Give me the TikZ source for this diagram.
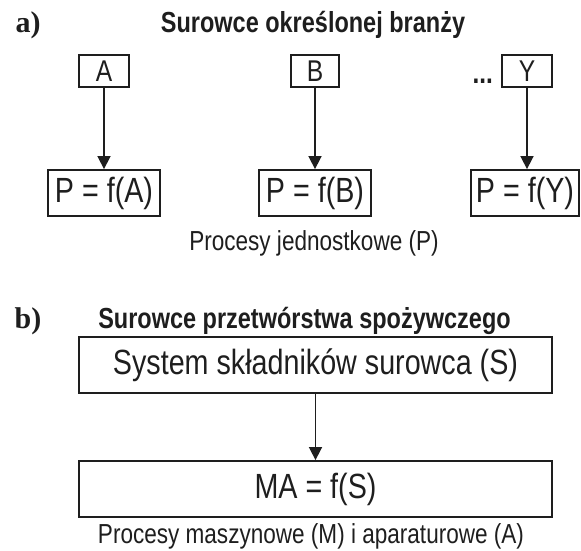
\documentclass[tikz,border=0pt]{standalone}
\usepackage{fontspec}
\setmainfont{Liberation Serif}
\newfontfamily\cond[FakeStretch=0.82]{Liberation Sans}
\newfontfamily\condb[FakeStretch=0.81]{Liberation Sans Bold}
\usetikzlibrary{arrows.meta}
\definecolor{ink}{HTML}{1E1E1E}
\begin{document}
\begin{tikzpicture}[x=1pt,y=-1pt,
  box/.style={draw=ink,line width=1.8pt,inner sep=0pt,text=ink,
    font=\cond\fontsize{35}{38}\selectfont},
  smallbox/.style={box,font=\cond\fontsize{30}{32}\selectfont},
  captext/.style={text=ink,inner sep=0pt,anchor=base,font=\cond\fontsize{27.5}{30}\selectfont},
  ttl/.style={text=ink,inner sep=0pt,anchor=base,font=\condb\fontsize{29}{31}\selectfont},
  lab/.style={text=ink,inner sep=0pt,anchor=base,font=\bfseries\fontsize{30}{32}\selectfont},
  arr/.style={draw=ink,line width=1.6pt,-{Triangle[length=13pt,width=13pt]}}]
\useasboundingbox (0,0) rectangle (581,551);
% a)
\node[lab] (la) at (28,33) {a)};
\node[ttl] (ta) at (313,33) {Surowce określonej branży};
\node[smallbox,minimum width=50pt,minimum height=32pt] (A) at (104,71) {A};
\node[smallbox,minimum width=48pt,minimum height=32pt] (B) at (315,71) {B};
\node[smallbox,minimum width=50pt,minimum height=32pt] (Y) at (527,71) {Y};
\node[text=ink,inner sep=0pt,font=\condb\fontsize{30}{32}\selectfont,anchor=base east] (dots) at (493,83) {...};
\node[box,minimum width=112pt,minimum height=46pt] (PA) at (104,193) {P = f(A)};
\node[box,minimum width=112pt,minimum height=46pt] (PB) at (315,193) {P = f(B)};
\node[box,minimum width=108pt,minimum height=46pt] (PY) at (525,193) {P = f(Y)};
\draw[arr] (A) -- (A |- PA.north);
\draw[arr] (B) -- (B |- PB.north);
\draw[arr] (Y) -- (Y |- PY.north);
\node[captext] (ca) at (314,250) {Procesy jednostkowe (P)};
% b)
\node[lab] (lb) at (28,328) {b)};
\node[ttl] (tb) at (304.5,328) {Surowce przetwórstwa spożywczego};
\node[box,minimum width=473pt,minimum height=56pt] (S) at (315.5,365) {System składników surowca (S)};
\node[box,minimum width=473pt,minimum height=56pt] (MA) at (315.5,489) {MA = f(S)};
\draw[arr] (S) -- (MA);
\node[captext] (cb) at (311,543) {Procesy maszynowe (M) i aparaturowe (A)};
\end{tikzpicture}
\end{document}
